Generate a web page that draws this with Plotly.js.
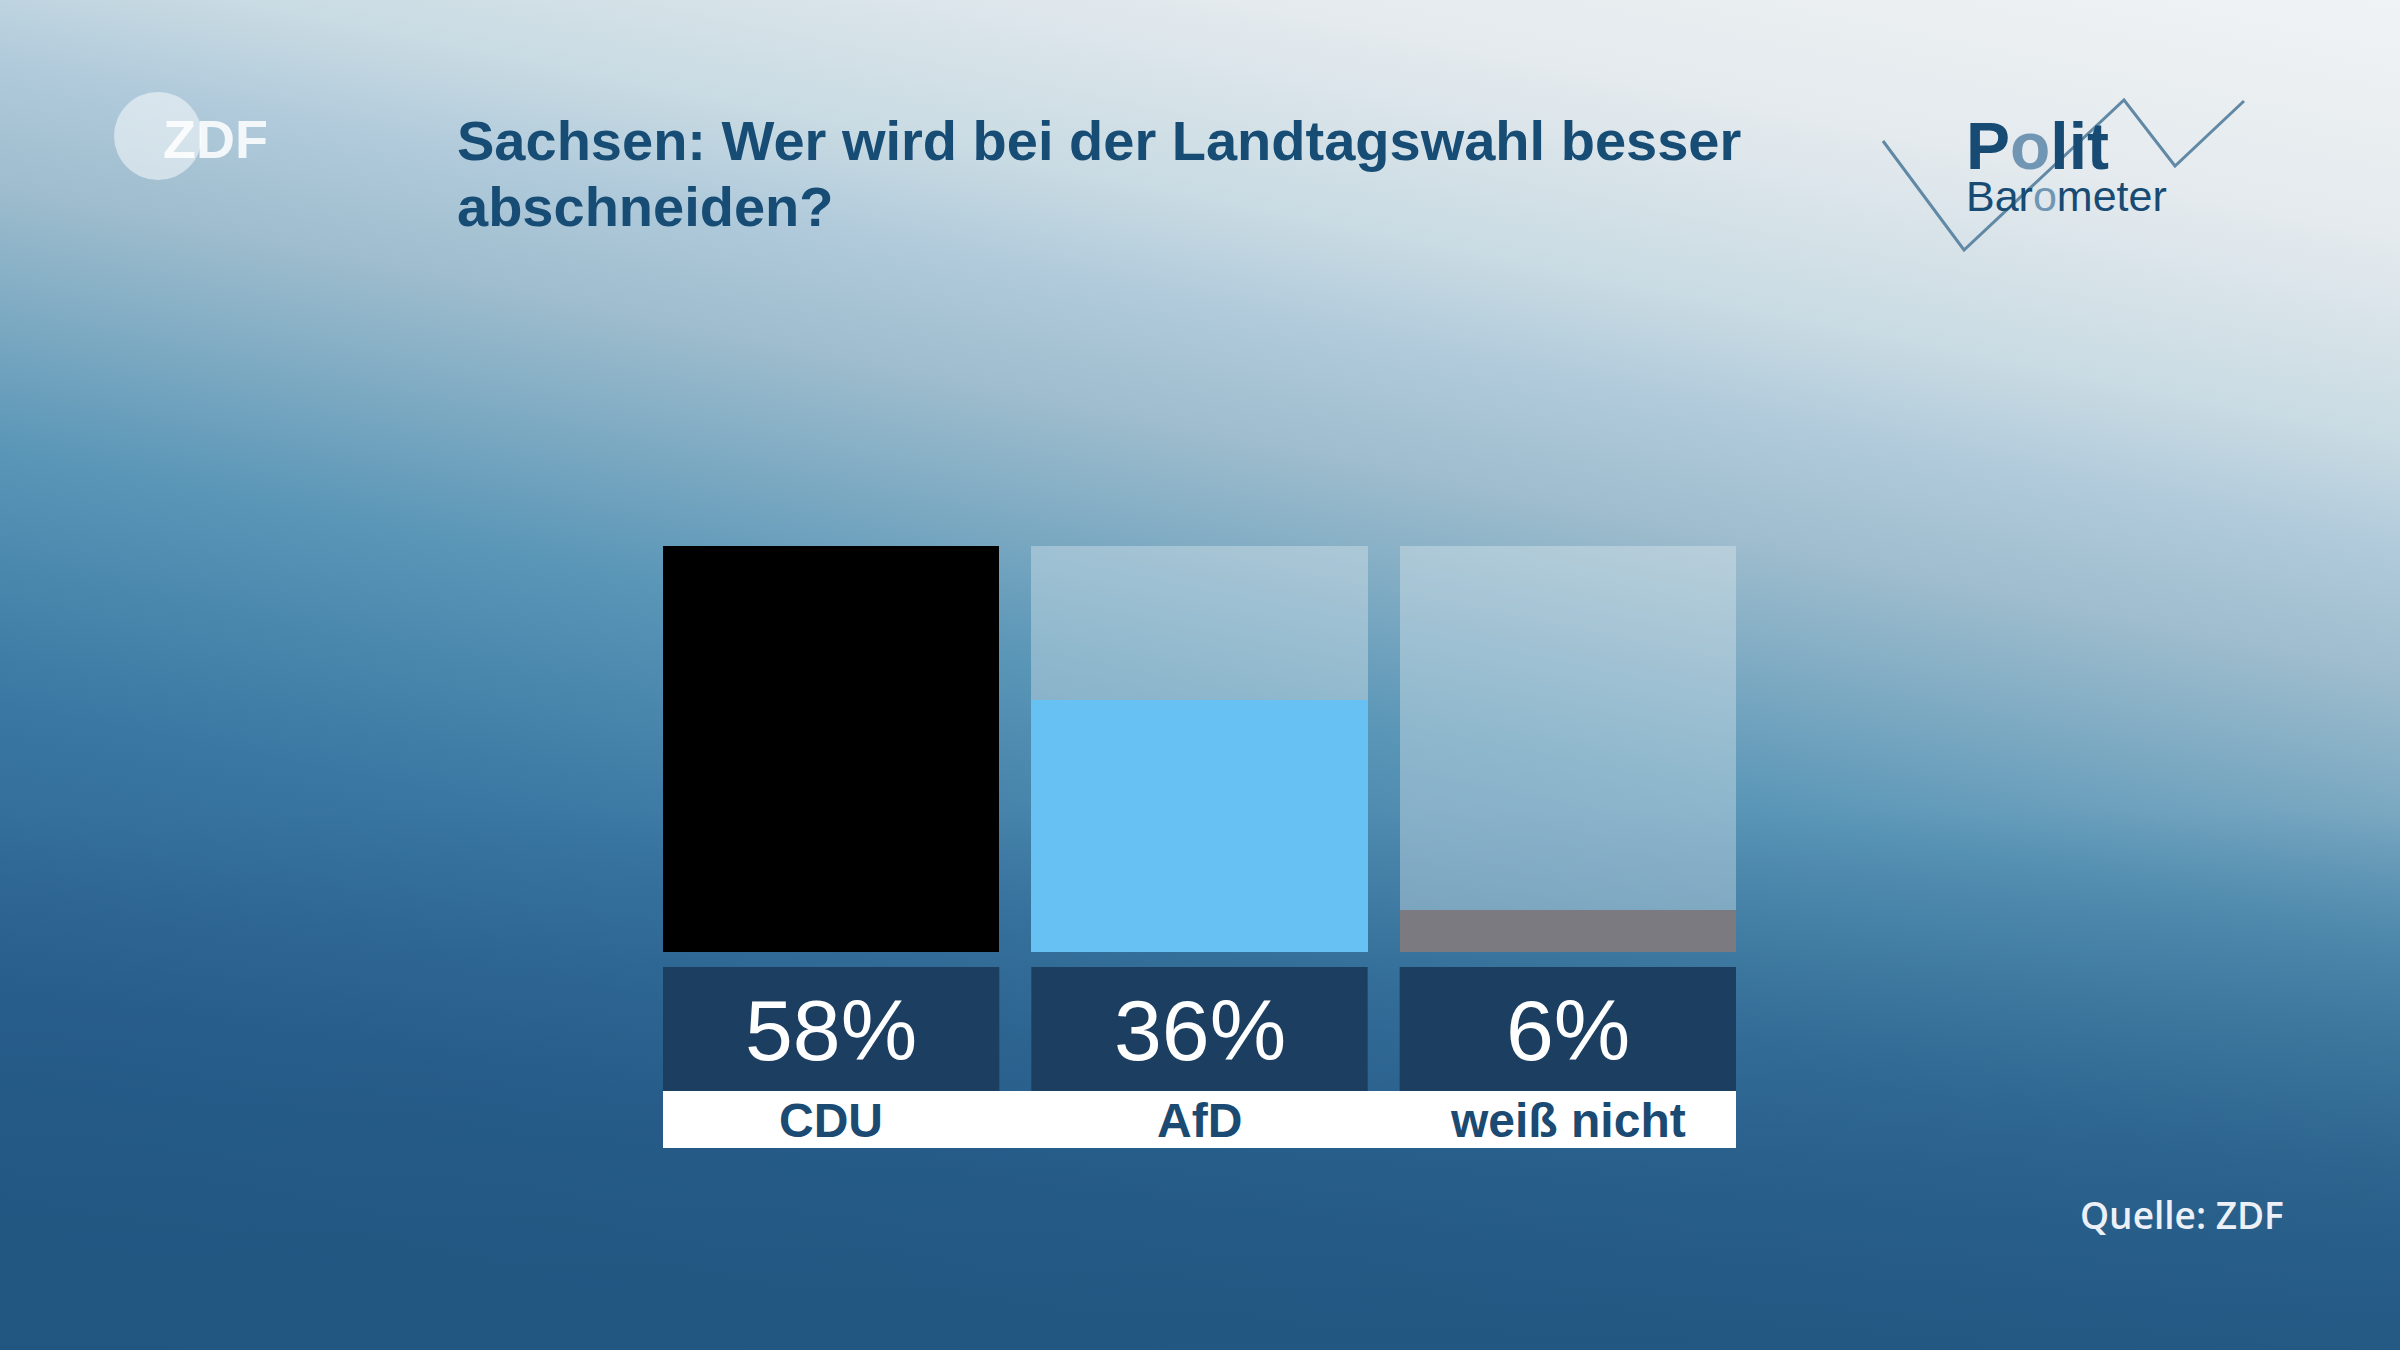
<!DOCTYPE html>
<html>
<head>
<meta charset="utf-8">
<script src="https://cdn.plot.ly/plotly-3.0.1.min.js"></script>
<style>
html, body { margin: 0; padding: 0; }
body {
  width: 2400px; height: 1350px; overflow: hidden;
  background:
    linear-gradient(to bottom, rgba(33,86,128,0) 60%, rgba(33,86,128,0.55) 85%, rgba(33,86,128,0.85) 100%),
    linear-gradient(191.5deg,
      #f0f3f5 0%, #e4eaee 13%, #c9dbe3 24%, #b0cadb 30%, #9dbccd 37%,
      #5a96b7 51%, #3a77a2 65%, #2b6190 80%, #215683 100%);
}
#chart { width: 2400px; height: 1350px; }
</style>
</head>
<body>
<div id="chart"></div>
<script>
// ---- data ----
const categories = ['CDU', 'AfD', 'weiß nicht'];
const values = [58, 36, 6];
const valueLabels = ['58%', '36%', '6%'];
const barColors = ['#000000', '#67c1f3', '#7a7a80'];
const titleLines = ['Sachsen: Wer wird bei der Landtagswahl besser', 'abschneiden?'];
const sourceText = 'Quelle: ZDF';

// ---- helpers (page pixel -> paper fraction) ----
const W = 2400, H = 1350;
const px = x => x / W;
const py = y => 1 - y / H;

const scaleMax = Math.max(...values);
const barW = 0.913;
const pxPerUnit = (952 - 546) / scaleMax;
const yBottom = -(1148 - 952) / pxPerUnit;
const boxTop = -(967 - 952) / pxPerUnit;
const boxBottom = -(1091 - 952) / pxPerUnit;

const track = {
  type: 'bar', x: categories, y: categories.map(() => scaleMax),
  width: barW, marker: { color: 'rgba(232,240,245,0.36)', line: { width: 0 } },
  hoverinfo: 'skip', showlegend: false
};
const bars = {
  type: 'bar', x: categories, y: values,
  width: barW, marker: { color: barColors, line: { width: 0 } },
  hoverinfo: 'skip', showlegend: false
};

const shapes = [];
categories.forEach((c, i) => {
  shapes.push({
    type: 'rect', xref: 'x', yref: 'y', layer: 'below',
    x0: i - barW / 2, x1: i + barW / 2, y0: boxBottom, y1: boxTop,
    fillcolor: '#1b3e61', line: { width: 0 }
  });
});
shapes.push({
  type: 'rect', xref: 'x', yref: 'y', layer: 'below',
  x0: -barW / 2, x1: categories.length - 1 + barW / 2, y0: yBottom, y1: boxBottom,
  fillcolor: '#ffffff', line: { width: 0 }
});
// ZDF logo circle
shapes.push({
  type: 'circle', xref: 'paper', yref: 'paper', layer: 'below',
  x0: px(158 - 44), x1: px(158 + 44), y0: py(136 + 44), y1: py(136 - 44),
  fillcolor: 'rgba(255,255,255,0.5)', line: { width: 0 }
});
// Politbarometer zigzag
const zz = [[1883, 141], [1964, 250], [2124, 100], [2175, 166], [2244, 101]];
shapes.push({
  type: 'path', xref: 'paper', yref: 'paper', layer: 'above',
  path: zz.map((p, i) => (i ? 'L' : 'M') + px(p[0]) + ',' + py(p[1])).join(' '),
  line: { color: '#6188a4', width: 3 }
});

const annotations = [];
categories.forEach((c, i) => {
  annotations.push({
    x: i, y: -(1030 - 952) / pxPerUnit, xref: 'x', yref: 'y',
    text: valueLabels[i], showarrow: false, xanchor: 'center', yanchor: 'middle',
    font: { family: 'Liberation Sans, Arial, sans-serif', size: 86, color: '#ffffff' }
  });
  annotations.push({
    x: i, y: -(1120 - 952) / pxPerUnit, xref: 'x', yref: 'y',
    text: c, showarrow: false, xanchor: 'center', yanchor: 'middle',
    font: { family: 'Liberation Sans, Arial, sans-serif', size: 48, weight: 'bold', color: '#1b4a72' }
  });
});
const titleY = [140, 207];
titleLines.forEach((t, i) => {
  annotations.push({
    x: px(455), y: py(titleY[i]), xref: 'paper', yref: 'paper', xanchor: 'left', yanchor: 'middle',
    text: t, showarrow: false, align: 'left',
    font: { family: 'Liberation Sans, Arial, sans-serif', size: 56, weight: 'bold', color: '#174c75' }
  });
});
annotations.push({
  x: px(2286), y: py(1214), xref: 'paper', yref: 'paper', xanchor: 'right', yanchor: 'middle',
  text: sourceText, showarrow: false,
  font: { family: 'Open Sans, sans-serif', size: 37, weight: 600, color: '#edf1f7' }
});
annotations.push({
  x: px(215), y: py(139), xref: 'paper', yref: 'paper', xanchor: 'center', yanchor: 'middle',
  text: 'ZDF', showarrow: false,
  font: { family: 'Liberation Sans, Arial, sans-serif', size: 54, weight: 'bold', color: 'rgba(255,255,255,0.85)' }
});
annotations.push({
  x: px(1964), y: py(146), xref: 'paper', yref: 'paper', xanchor: 'left', yanchor: 'middle',
  text: 'P<span style="color:#7096b3">o</span>lit', showarrow: false,
  font: { family: 'Liberation Sans, Arial, sans-serif', size: 66, weight: 'bold', color: '#174b73' }
});
annotations.push({
  x: px(1964), y: py(196), xref: 'paper', yref: 'paper', xanchor: 'left', yanchor: 'middle',
  text: 'Bar<span style="color:#7096b3">o</span>meter', showarrow: false,
  font: { family: 'Liberation Sans, Arial, sans-serif', size: 43, color: '#174b73' }
});

const layout = {
  width: W, height: H,
  margin: { l: 0, r: 0, t: 0, b: 0, pad: 0 },
  paper_bgcolor: 'rgba(0,0,0,0)', plot_bgcolor: 'rgba(0,0,0,0)',
  barmode: 'overlay', bargap: 0,
  showlegend: false,
  xaxis: {
    domain: [px(663), px(1736)], range: [-barW / 2, categories.length - 1 + barW / 2],
    type: 'category', visible: false, fixedrange: true, showgrid: false, zeroline: false
  },
  yaxis: {
    domain: [py(1148), py(546)], range: [yBottom, scaleMax],
    visible: false, fixedrange: true, showgrid: false, zeroline: false
  },
  shapes: shapes,
  annotations: annotations
};

Plotly.newPlot('chart', [track, bars], layout, { staticPlot: true, displayModeBar: false });
</script>
</body>
</html>
